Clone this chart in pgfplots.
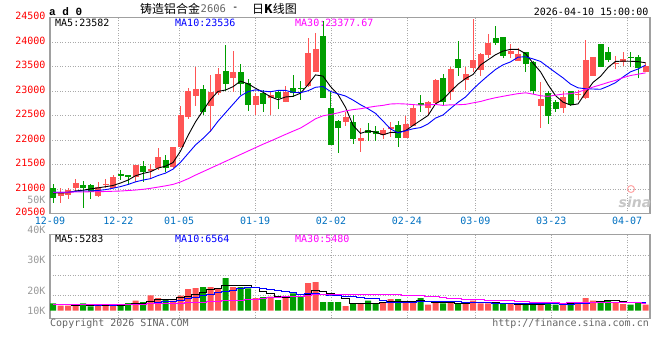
\documentclass[border=0pt]{standalone}
\usepackage{pgfplots}
\pgfplotsset{compat=1.18}
\usepackage{pgfplotstable}
\usepackage{fontspec}
\newfontfamily\dvm{DejaVu Sans Mono}
\newfontfamily\lmo{Liberation Mono}
\newfontfamily\cjk{Noto Sans CJK SC}
\newfontfamily\dvs{DejaVu Sans}
\newcommand\mf{\dvm\fontsize{10bp}{12bp}\selectfont}
\definecolor{upc}{RGB}{255,85,85}
\definecolor{dnc}{RGB}{0,158,0}
\definecolor{gridc}{RGB}{170,170,170}
\definecolor{borderc}{RGB}{160,160,160}
\definecolor{xlab}{RGB}{0,112,192}
\definecolor{glab}{RGB}{153,153,153}
\definecolor{dgray}{RGB}{100,100,100}
\definecolor{mag}{RGB}{255,0,255}

% price candles: index, open, high, low, close
\pgfplotstableread{
i O H L C
1 20872 21035 20729 20954
2 20886 21035 20804 20988
3 21022 21212 20967 21124
6 20872 21158 20852 21056
7 21090 21212 21022 21110
8 21035 21294 21022 21246
11 21260 21498 21158 21498
13 21375 21518 21226 21416
14 21430 21838 21396 21654
16 21464 21872 21430 21865
17 21872 22708 21838 22518
18 22484 23075 22436 23007
19 22912 23490 22708 23048
21 22708 23334 22164 22994
22 22960 23470 22926 23354
24 23266 23823 22994 23388
27 22722 22973 22518 22905
29 22860 22990 22520 22920
31 22790 23109 22776 22994
34 23116 24082 23096 23782
35 23402 24197 23402 23864
39 22382 22586 22293 22484
41 21987 22246 21770 22042
44 22110 22259 22028 22212
45 22239 22382 22076 22273
47 22055 22497 22042 22334
48 22300 22735 22293 22654
50 22667 22803 22518 22776
51 22769 23252 22735 23232
53 22994 23504 22824 23456
55 23232 23490 23028 23354
56 23483 24480 23402 23640
57 23436 23789 23320 23762
58 23742 24170 23687 23986
61 23755 23959 23674 23823
62 23626 23878 23619 23755
65 22708 23184 22259 22844
68 22654 23007 22565 22892
70 22926 23028 22824 22953
71 22858 24048 22844 23640
72 23313 23701 23313 23701
75 23558 23721 23449 23572
76 23606 23803 23524 23667
79 23402 23585 23388 23517
}\upc

\pgfplotstableread{
i O H L C
0 21035 21110 20729 20818
4 21090 21178 20627 21022
5 21090 21100 20797 20954
9 21307 21396 21192 21273
10 21287 21300 21090 21253
12 21477 21586 21158 21348
15 21600 21702 21348 21443
20 23048 23130 22518 22586
23 23415 23946 23007 23150
25 23395 23551 22926 23150
26 23164 23245 22606 22722
28 22973 23028 22586 22742
30 22994 23028 22633 22858
32 23062 23334 22892 22973
33 23075 23211 22824 23062
36 24136 24430 22871 22871
37 22660 22994 21906 21906
38 22395 22416 21749 22246
40 22368 22518 21926 22028
42 22212 22361 21987 22157
43 22191 22293 21987 22123
46 22314 22395 21872 22042
49 22762 22926 22586 22722
52 23279 23354 22722 22790
54 23660 24027 23320 23470
59 24082 24333 23946 23986
60 24102 24110 23674 23728
63 23796 23810 23402 23558
64 23606 23620 22939 23014
66 22960 23007 22341 22504
67 22776 22824 22586 22640
69 23007 23015 22708 22722
73 23966 23975 23490 23504
74 23803 23898 23606 23633
77 23701 23796 23490 23687
78 23701 23742 23266 23470
}\dnc

% price moving averages
\pgfplotstableread{
i m5 m10 m30
0 20924 20937 20940
1 20924 20937 20940
2 20932 20941 20940
3 20967 20958 20945
4 20981 20966 20945
5 21008 20966 20950
6 21029 20977 20950
7 21053 20993 20955
8 21078 21022 20960
9 21128 21055 20965
10 21188 21098 20975
11 21276 21152 20985
12 21324 21188 21000
13 21358 21218 21020
14 21434 21281 21045
15 21472 21330 21070
16 21545 21411 21100
17 21779 21551 21150
18 22097 21728 21215
19 22376 21905 21290
20 22605 22038 21360
21 22831 22188 21430
22 22998 22389 21500
23 23026 22562 21570
24 23094 22735 21640
25 23207 22906 21710
26 23153 22992 21780
27 23063 23030 21850
28 22981 23004 21920
29 22888 22991 21984
30 22829 23018 22052
31 22884 23018 22120
32 22897 22980 22186
33 22961 22971 22250
34 23134 23011 22342
35 23335 23082 22439
36 23310 23097 22500
37 23097 22997 22526
38 22934 22948 22560
39 22674 22904 22600
40 22307 22821 22626
41 22141 22726 22644
42 22191 22644 22671
43 22167 22550 22695
44 22112 22393 22713
45 22161 22234 22741
46 22161 22151 22747
47 22197 22194 22741
48 22303 22235 22729
49 22405 22259 22718
50 22506 22334 22724
51 22744 22453 22732
52 22835 22516 22713
53 22995 22649 22724
54 23145 22775 22726
55 23260 22883 22733
56 23342 23043 22764
57 23536 23186 22792
58 23642 23319 22834
59 23746 23445 22869
60 23820 23540 22898
61 23857 23600 22926
62 23856 23696 22952
63 23770 23706 22969
64 23576 23661 22943
65 23399 23610 22909
66 23135 23496 22897
67 22912 23384 22921
68 22779 23274 22943
69 22720 23148 22951
70 22742 23071 22981
71 22969 23052 23035
72 23182 23047 23086
73 23304 23041 23132
74 23486 23103 23180
75 23610 23176 23223
76 23615 23292 23277
77 23613 23397 23322
78 23606 23455 23349
79 23583 23534 23376
}\mas

% volumes
\pgfplotstableread{
i v
1 3750
2 3750
3 3750
6 3750
7 5000
8 3750
11 7500
13 11500
14 9500
16 7500
17 11250
18 16250
19 17000
21 17750
22 16250
24 17750
27 9500
29 10500
31 10000
34 20750
35 21500
39 3500
41 5500
44 5750
45 8750
47 5750
48 6500
50 4500
51 5750
53 5750
55 5500
56 7500
57 5500
58 5500
61 5000
62 4500
65 6500
68 4500
70 6500
71 9500
72 7500
75 5750
76 5000
79 4500
}\vup

\pgfplotstableread{
i v
0 5500
4 5500
5 3250
9 5000
10 5750
12 6500
15 8750
20 17750
23 24500
25 17750
26 16750
28 10250
30 8000
32 13000
33 10750
36 6500
37 6500
38 6500
40 5000
42 7500
43 5500
46 8750
49 9500
52 5500
54 5500
59 5000
60 5000
63 4500
64 4500
66 5750
67 4500
69 4500
73 6500
74 8000
77 4500
78 6500
}\vdn

\pgfplotstableread{
i m5 m10 m30
0 4700 4600 4750
1 4550 4525 4750
2 4400 4450 4750
3 4250 4375 4750
4 4450 4475 4750
5 4000 4350 4750
6 4000 4275 4750
7 4250 4325 4750
8 4250 4250 4750
9 4150 4300 4750
10 4650 4325 4750
11 5400 4700 4875
12 5700 4975 5000
13 7250 5750 5125
14 8150 6150 5250
15 8750 6700 5375
16 8750 7075 5500
17 9700 7700 5750
18 10650 8950 6000
19 12150 10150 6250
20 13950 11350 6500
21 16000 12375 6750
22 17000 13350 7125
23 18650 14650 7500
24 18800 15475 7750
25 18800 16375 8000
26 18600 17300 8375
27 17250 17125 8750
28 14400 16525 9125
29 12950 15875 10100
30 11000 14900 10200
31 9650 14125 10400
32 10350 13800 10700
33 10450 12425 10950
34 12500 12725 11450
35 15200 13100 12050
36 14500 12075 12150
37 13200 11775 12200
38 12350 11400 12300
39 8900 10700 12250
40 5600 10400 12225
41 5400 9950 12150
42 5600 9400 12175
43 5400 8875 11975
44 5850 7375 11850
45 6600 6100 11850
46 7250 6325 11900
47 6900 6250 11725
48 7100 6250 11400
49 7850 6850 11150
50 7000 6800 10700
51 6400 6825 10300
52 6350 6625 9950
53 6200 6650 9325
54 5400 6625 8900
55 5600 6300 8500
56 5950 6175 8200
57 5950 6150 8050
58 5900 6050 7900
59 5800 5600 7725
60 5700 5650 7625
61 5200 5575 7450
62 5000 5475 7175
63 4800 5350 6950
64 4700 5250 6425
65 5000 5350 5925
66 5150 5175 5900
67 5150 5075 5825
68 5150 4975 5750
69 5150 4925 5800
70 5150 5075 5850
71 5900 5525 5975
72 6500 5825 5975
73 6900 6025 6000
74 7600 6375 6075
75 7450 6300 5975
76 6550 6225 5850
77 5950 6225 5825
78 5950 6425 5825
79 5250 6425 5650
}\vma

\pgfplotsset{
  sinagrid/.style={
    scale only axis, width=600bp,
    xmin=-0.4, xmax=79.6,
    xtick={-0.4,8.714,16.815,26.942,37.068,47.195,56.309,66.436,76.562},
    grid=major,
    major grid style={gridc, line width=0.8bp, dash pattern=on 1bp off 1.5bp},
    major tick length=0pt,
    axis line style={borderc, line width=1.2bp},
    scaled y ticks=false,
    clip mode=individual,
    tick label style={font=\mf},
  },
  wick/.style={forget plot, draw=none, mark=none,
    error bars/.cd, y dir=plus, y explicit, error mark=none,
    error bar style={draw=#1, line width=1bp, solid}},
  body/.style={forget plot, draw=none, mark=none,
    error bars/.cd, y dir=plus, y explicit, error mark=none,
    error bar style={draw=#1, line width=6bp, solid}},
}

\begin{document}
\begin{tikzpicture}
\useasboundingbox (0bp,0bp) rectangle (660bp,-360bp);

% ---------- price panel ----------
\begin{axis}[sinagrid,
  at={(50bp,-213.8bp)}, anchor=south west, height=196bp,
  ymin=20500, ymax=24500,
  ytick={20500,21000,21500,22000,22500,23000,23500,24000,24500},
  yticklabels={20500,21000,21500,22000,22500,23000,23500,24000,24500},
  xticklabels={12-09,12-22,01-05,01-19,02-02,02-24,03-09,03-23,04-07},
  xticklabel style={text=xlab, inner sep=0pt, anchor=north, yshift=-2.9bp},
  yticklabel style={text=red, inner sep=0pt, anchor=east, xshift=-4.3bp, yshift=1.6bp},
]
\addplot[wick=upc] table[x=i, y=L, y error plus expr=\thisrow{H}-\thisrow{L}] {\upc};
\addplot[wick=dnc] table[x=i, y=L, y error plus expr=\thisrow{H}-\thisrow{L}] {\dnc};
\addplot[body=upc] table[x=i, y=O, y error plus expr=\thisrow{C}-\thisrow{O}] {\upc};
\addplot[body=dnc] table[x=i, y=C, y error plus expr=\thisrow{O}-\thisrow{C}] {\dnc};
\addplot[black, line width=0.9bp, mark=none] table[x=i, y=m5] {\mas};
\addplot[blue, line width=0.9bp, mark=none] table[x=i, y=m10] {\mas};
\addplot[mag, line width=0.9bp, mark=none] table[x=i, y=m30] {\mas};
\end{axis}

% ---------- volume panel ----------
\begin{axis}[sinagrid,
  at={(50bp,-318.3bp)}, anchor=south west, height=84bp,
  ymin=-5700, ymax=57300,
  ytick={11250,26250,41550}, yticklabels={}, xticklabels={},
]
\addplot[ybar, bar width=6bp, bar shift=0pt, fill=upc, draw=none] table[x=i, y=v] {\vup};
\addplot[ybar, bar width=6bp, bar shift=0pt, fill=dnc, draw=none] table[x=i, y=v] {\vdn};
\addplot[const plot mark mid, black, line width=1bp, mark=none] table[x=i, y=m5] {\vma};
\addplot[const plot mark mid, blue, line width=1bp, mark=none] table[x=i, y=m10] {\vma};
\addplot[const plot mark mid, mag, line width=1bp, mark=none] table[x=i, y=m30] {\vma};
\end{axis}

% ---------- texts ----------
\node[anchor=west, inner sep=0pt] at (49bp,-11.5bp) {\lmo\bfseries\fontsize{11bp}{12bp}\selectfont a d 0};
\node[anchor=west, inner sep=0pt] at (140bp,-8.5bp) {\cjk\fontsize{12bp}{13bp}\selectfont 铸造铝合金};
\node[anchor=west, inner sep=0pt, text=dgray] at (200.5bp,-9bp) {\dvm\fontsize{10.5bp}{12bp}\selectfont 2606};
\node[anchor=west, inner sep=0pt] at (232bp,-9bp) {\dvm\fontsize{10.5bp}{12bp}\selectfont -};
\node[anchor=west, inner sep=0pt] at (252bp,-8.5bp) {\cjk\fontsize{12bp}{13bp}\selectfont 日\textbf{K}线图};
\node[anchor=east, inner sep=0pt] at (648.5bp,-11.5bp) {\mf 2026-04-10 15:00:00};

\node[anchor=west, inner sep=0pt] at (55bp,-23.3bp) {\mf MA5:23582};
\node[anchor=west, inner sep=0pt, text=blue] at (175bp,-23.3bp) {\mf MA10:23536};
\node[anchor=west, inner sep=0pt, text=mag] at (295bp,-23.3bp) {\mf MA30:23377.67};

\node[anchor=west, inner sep=0pt] at (55bp,-238.5bp) {\mf MA5:5283};
\node[anchor=west, inner sep=0pt, text=blue] at (175bp,-238.5bp) {\mf MA10:6564};
\node[anchor=west, inner sep=0pt, text=mag] at (295bp,-238.5bp) {\mf MA30:5480};

\node[anchor=east, inner sep=0pt, text=glab] at (45.7bp,-200bp) {\mf 50K};
\node[anchor=east, inner sep=0pt, text=glab] at (45.7bp,-230bp) {\mf 40K};
\node[anchor=east, inner sep=0pt, text=glab] at (45.7bp,-260.3bp) {\mf 30K};
\node[anchor=east, inner sep=0pt, text=glab] at (45.7bp,-291.2bp) {\mf 20K};
\node[anchor=east, inner sep=0pt, text=glab] at (45.7bp,-311bp) {\mf 10K};

\node[anchor=west, inner sep=0pt, text=dgray] at (50bp,-324bp) {\mf Copyright 2026 SINA.COM};
\node[anchor=east, inner sep=0pt, text=dgray] at (649bp,-324bp) {\mf http://finance.sina.com.cn};

\draw[red!35, line width=1bp] (631bp,-189bp) circle (3.5bp);
\node[anchor=center, inner sep=0pt, text=gray!45] at (635bp,-202bp) {\dvs\bfseries\itshape\fontsize{14bp}{15bp}\selectfont sina};
\end{tikzpicture}
\end{document}
